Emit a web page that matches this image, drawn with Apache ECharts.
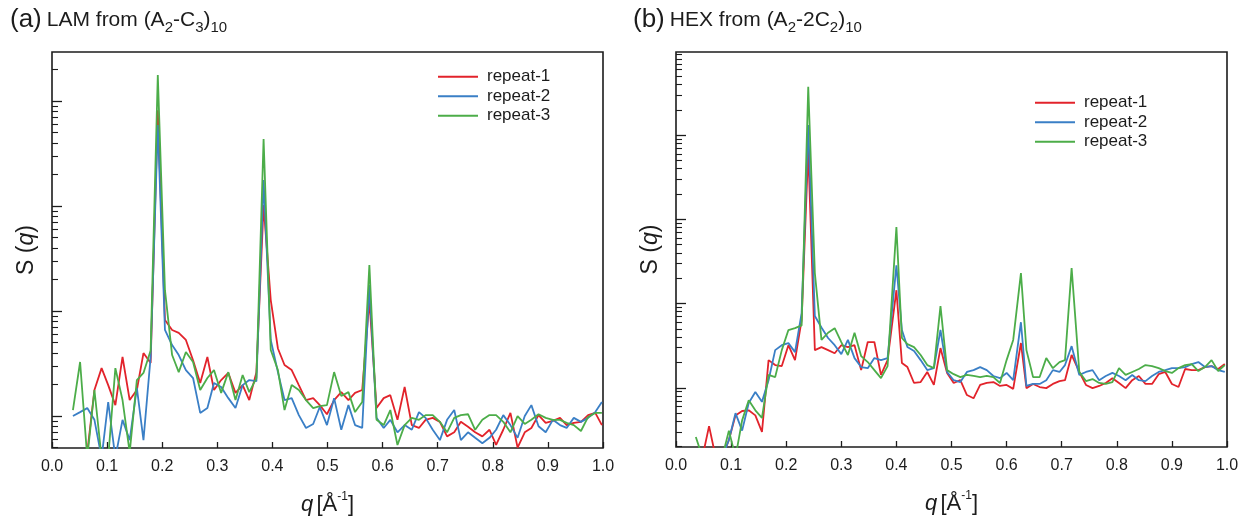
<!DOCTYPE html>
<html>
<head>
<meta charset="utf-8">
<script src="https://cdn.jsdelivr.net/npm/echarts@6.0.0/dist/echarts.min.js"></script>
<style>
  html, body { margin: 0; padding: 0; background: #ffffff; }
  #chart { width: 1243px; height: 523px; }
</style>
</head>
<body>
<div id="chart"></div>
<script>
// ---- data: structure factor S(q), three repeats per morphology ----
const seriesNames = ['repeat-1', 'repeat-2', 'repeat-3'];

// (a) LAM from (A2-C3)10
const qLam = [0.038,0.051,0.064,0.077,0.090,0.102,0.115,0.128,0.141,0.154,0.166,0.179,0.192,0.205,0.218,0.230,0.243,0.256,0.269,0.282,
  0.294,0.307,0.320,0.333,0.346,0.358,0.371,0.384,0.397,0.410,0.422,0.435,0.448,0.461,0.474,0.486,0.499,0.512,0.525,0.538,
  0.550,0.563,0.576,0.589,0.602,0.614,0.627,0.640,0.653,0.666,0.678,0.691,0.704,0.717,0.730,0.742,0.755,0.768,0.781,0.794,
  0.806,0.819,0.832,0.845,0.858,0.870,0.883,0.896,0.909,0.922,0.934,0.947,0.960,0.973,0.986,0.998];
const lamRepeat1 = [0.4,0.4,0.45,1.77,2.86,1.97,1.27,3.65,1.42,1.77,3.98,3.2,818,8.2,6.6,6.2,5.3,3.4,2.06,3.65,
  1.77,2.2,2.57,1.66,1.97,1.42,2.62,102,12.7,4.4,3.06,2.74,1.97,1.42,1.48,1.27,1.04,1.42,1.69,1.42,
  1.66,1.77,12.7,1.19,1.48,1.58,0.92,1.89,0.82,0.77,0.92,0.96,0.88,0.64,0.70,0.88,0.79,0.70,0.64,0.74,
  0.53,0.74,1.07,0.5,0.70,0.77,1.02,0.86,0.90,0.96,0.82,0.86,0.88,1.02,1.07,0.82];
const lamRepeat2 = [1.0,1.09,1.19,0.92,0.4,1.36,0.4,0.92,0.59,1.85,0.59,3.65,590,6.6,4.74,3.81,2.74,2.3,1.07,1.19,
  2.06,1.89,1.48,1.19,1.97,2.2,2.15,177,5.3,2.62,1.42,1.48,1.02,0.77,0.84,1.22,0.82,1.48,0.74,1.27,
  0.82,0.77,17.7,0.96,0.77,0.92,0.70,0.82,0.74,1.09,0.96,0.74,0.59,0.92,1.14,0.59,0.70,0.62,0.55,0.62,
  0.74,1.02,0.82,0.62,1.0,1.27,0.80,0.70,0.92,0.82,0.77,0.96,0.88,0.96,1.09,1.36];
const lamRepeat3 = [1.14,3.27,0.4,1.77,0.4,0.4,2.86,1.42,0.45,2.2,2.57,4.2,1770,15.8,3.81,2.62,4.07,3.27,1.77,2.3,
  2.74,1.66,2.62,1.42,2.46,1.69,2.3,434,4.25,2.74,1.14,1.97,1.77,1.42,1.19,1.24,1.27,2.62,1.55,1.69,
  1.09,1.36,27.4,0.92,0.82,1.14,0.53,0.82,0.96,0.92,1.02,1.02,0.88,0.70,0.96,1.02,1.04,0.74,0.92,1.02,
  1.02,0.88,0.70,1.0,0.84,0.92,1.04,0.96,0.92,0.92,0.86,0.82,0.72,0.98,1.07,1.07];

// (b) HEX from (A2-2C2)10
const qHex = [0.036,0.048,0.060,0.072,0.084,0.096,0.108,0.120,0.132,0.144,0.156,0.168,0.180,0.192,0.204,0.216,0.228,0.240,0.252,0.264,
  0.276,0.288,0.300,0.312,0.324,0.336,0.348,0.360,0.372,0.384,0.400,0.410,0.420,0.432,0.444,0.456,0.468,0.480,0.492,0.504,
  0.516,0.528,0.540,0.552,0.564,0.576,0.588,0.600,0.612,0.626,0.636,0.648,0.660,0.672,0.684,0.696,0.706,0.718,0.732,0.744,
  0.756,0.768,0.780,0.792,0.804,0.816,0.828,0.840,0.852,0.864,0.876,0.888,0.900,0.912,0.924,0.936,0.948,0.960,0.972,0.984,0.996];
const hexRepeat1 = [0.15,0.15,0.35,0.15,0.15,0.24,0.47,0.53,0.54,0.47,0.30,2.13,1.86,1.81,3.2,2.13,6.35,665,2.8,3.04,
  2.8,2.57,3.2,3.04,3.2,1.62,3.49,3.49,1.42,2.13,14.4,1.97,1.76,1.14,1.17,1.54,1.08,2.96,1.5,1.14,
  1.23,0.82,0.75,1.08,1.14,1.17,1.05,1.08,0.97,3.4,0.99,1.11,1.02,0.99,1.11,1.2,1.23,2.45,1.54,1.08,
  0.99,1.05,1.14,1.3,1.14,0.99,1.23,1.38,1.11,1.11,1.45,1.54,1.11,1.02,1.67,1.62,1.62,1.76,1.81,1.67,1.91];
const hexRepeat2 = [0.15,0.15,0.15,0.15,0.15,0.24,0.5,0.31,0.66,0.89,0.68,1.23,2.8,3.2,3.39,2.65,7.7,1320,7.1,5.2,
  3.9,3.2,2.51,3.7,2.25,1.76,1.71,2.25,2.13,2.25,28.5,4.85,3.04,2.73,2.13,1.62,1.71,4.85,1.54,1.23,
  1.17,1.54,1.62,1.76,1.62,1.38,1.3,1.5,1.23,6.0,1.05,1.11,1.11,1.23,1.62,1.54,1.86,3.12,1.42,1.54,
  1.62,1.23,1.38,1.5,1.38,1.23,1.42,1.23,1.2,1.38,1.54,1.62,1.71,1.71,1.76,1.91,2.02,1.76,1.81,1.62,1.54];
const hexRepeat3 = [0.26,0.15,0.15,0.15,0.15,0.31,0.15,0.41,0.71,0.54,0.44,1.42,1.34,2.8,4.85,5.1,5.5,3740,23,3.7,
  4.5,5.1,3.49,2.45,4.5,2.38,2.02,1.62,1.3,1.81,81,3.9,3.3,3.04,2.45,1.86,1.71,9.3,1.62,1.45,
  1.34,1.42,1.38,1.34,1.38,1.34,1.14,2.13,3.7,23,2.8,1.34,1.34,2.25,1.71,2.02,2.13,26.3,1.54,1.2,
  1.27,1.14,1.11,1.17,1.71,1.42,1.54,1.67,1.86,1.81,1.71,1.58,1.5,1.71,1.86,1.91,1.58,1.76,2.13,1.58,1.86];

// axis tick labels along q
const qTickLabels = ['0.0','0.1','0.2','0.3','0.4','0.5','0.6','0.7','0.8','0.9','1.0'];
// log-axis tick positions (unlabelled)
const decadeTicks = [1, 10, 100, 1000];
const minorTicksLam = [0.5,0.6,0.7,0.8,0.9,2,3,4,5,6,7,8,9,20,30,40,50,60,70,80,90,200,300,400,500,600,700,800,900,2000];
const minorTicksHex = [0.2,0.3,0.4,0.5,0.6,0.7,0.8,0.9,2,3,4,5,6,7,8,9,20,30,40,50,60,70,80,90,
  200,300,400,500,600,700,800,900,2000,3000,4000,5000,6000,7000,8000,9000];

// ---- styling ----
const FONT = "'Liberation Sans', Arial, sans-serif";
const INK = '#1c1c1c';
const LINE_COLORS = ['#e2232b', '#3a7fc6', '#4cad49'];

const pairs = (q, s) => q.map((x, k) => [x, s[k]]);

const chart = echarts.init(document.getElementById('chart'), null, { renderer: 'canvas' });

function titleText(tag, pieces) {
  return '{p|' + tag + '} ' + pieces;
}
const titleRich = {
  p: { fontSize: 26, lineHeight: 30, fontWeight: 'normal', fontFamily: FONT, color: INK },
  t: { fontSize: 21, lineHeight: 30, fontWeight: 'normal', fontFamily: FONT, color: INK },
  s: { fontSize: 15, lineHeight: 19, fontWeight: 'normal', verticalAlign: 'bottom', fontFamily: FONT, color: INK }
};

function xAxisFor(gridIndex) {
  return {
    gridIndex, type: 'value', min: 0, max: 1, interval: 0.1,
    axisLine: { show: false },
    axisTick: { inside: true, length: 6, lineStyle: { color: INK, width: 1.3 } },
    axisLabel: {
      fontSize: 16, margin: 11, color: INK, fontFamily: FONT,
      formatter: v => qTickLabels[Math.round(v * 10)]
    },
    splitLine: { show: false },
    name: '{i|q} {t|[Å}{u|-1}{t|]}',
    nameLocation: 'middle', nameGap: 43,
    nameTextStyle: {
      rich: {
        i: { fontSize: 22, fontStyle: 'italic', fontFamily: FONT, color: INK, lineHeight: 28 },
        t: { fontSize: 22, fontFamily: FONT, color: INK, lineHeight: 28 },
        u: { fontSize: 12, fontFamily: FONT, color: INK, lineHeight: 14, verticalAlign: 'top' }
      }
    }
  };
}

function yMajor(gridIndex, min, max) {
  return {
    gridIndex, type: 'log', logBase: 10, min, max, position: 'left',
    axisLine: { show: false },
    axisLabel: { show: false },
    splitLine: { show: false },
    axisTick: { inside: true, length: 10, customValues: decadeTicks, lineStyle: { color: INK, width: 1.3 } },
    name: '{t|S (}{i|q}{t|)}',
    nameLocation: 'middle', nameRotate: 90, nameGap: 14,
    nameTextStyle: {
      rich: {
        t: { fontSize: 23, fontFamily: FONT, color: INK },
        i: { fontSize: 23, fontStyle: 'italic', fontFamily: FONT, color: INK }
      }
    }
  };
}

function yMinor(gridIndex, min, max, ticks) {
  return {
    gridIndex, type: 'log', logBase: 10, min, max, position: 'left', offset: 0,
    axisLine: { show: false },
    axisLabel: { show: false },
    splitLine: { show: false },
    axisTick: { inside: true, length: 6, customValues: ticks, lineStyle: { color: INK, width: 1.1 } }
  };
}

function legendAt(left, top) {
  return {
    left, top, orient: 'vertical', padding: 0, itemGap: 0,
    icon: 'rect', itemWidth: 40, itemHeight: 2,
    textStyle: { fontSize: 17, lineHeight: 19.5, fontFamily: FONT, color: INK, padding: [0, 0, 0, 4] },
    data: seriesNames
  };
}

const repeatsLam = [lamRepeat1, lamRepeat2, lamRepeat3];
const repeatsHex = [hexRepeat1, hexRepeat2, hexRepeat3];
const series = [];
[[qLam, repeatsLam, 0], [qHex, repeatsHex, 1]].forEach(([q, reps, g]) => {
  reps.forEach((s, r) => {
    series.push({
      type: 'line', name: seriesNames[r],
      xAxisIndex: g, yAxisIndex: g * 2,
      data: pairs(q, s),
      symbol: 'none', showSymbol: false, clip: true,
      lineStyle: { width: 1.8, color: LINE_COLORS[r] },
      itemStyle: { color: LINE_COLORS[r] },
      z: 2 + r
    });
  });
});

chart.setOption({
  animation: false,
  backgroundColor: '#ffffff',
  title: [
    { left: 10, top: 5, padding: 0,
      text: titleText('(a)', '{t|LAM from (A}{s|2}{t|-C}{s|3}{t|)}{s|10}'),
      textStyle: { fontWeight: 'normal', rich: titleRich } },
    { left: 633, top: 5, padding: 0,
      text: titleText('(b)', '{t|HEX from (A}{s|2}{t|-2C}{s|2}{t|)}{s|10}'),
      textStyle: { fontWeight: 'normal', rich: titleRich } }
  ],
  legend: [legendAt(438, 67), legendAt(1035, 93)],
  grid: [
    { left: 52, top: 52, width: 551, height: 396, show: true, borderColor: INK, borderWidth: 1.6, backgroundColor: 'transparent' },
    { left: 676, top: 52, width: 551, height: 395, show: true, borderColor: INK, borderWidth: 1.6, backgroundColor: 'transparent' }
  ],
  xAxis: [xAxisFor(0), xAxisFor(1)],
  yAxis: [
    yMajor(0, 0.496, 2930), yMinor(0, 0.496, 2930, minorTicksLam),
    yMajor(1, 0.198, 9700), yMinor(1, 0.198, 9700, minorTicksHex)
  ],
  series
});
</script>
</body>
</html>
